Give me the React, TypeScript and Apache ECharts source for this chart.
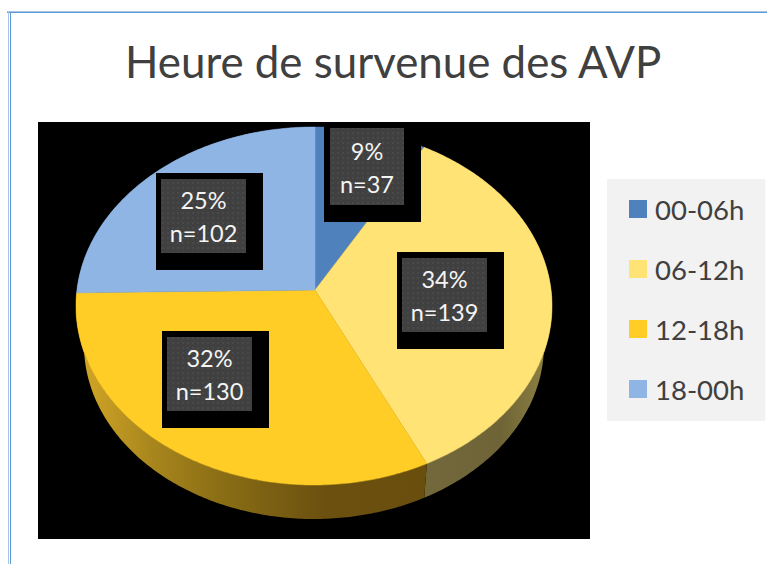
import React, { useEffect, useRef } from "react";
import * as echarts from "echarts";

const titleText = "Heure de survenue des AVP";
const categories = ["00-06h", "06-12h", "12-18h", "18-00h"];
const counts = [37, 139, 130, 102];

const FONT = "Lato";
const faceColors = ["#4F81BD", "#FFE375", "#FFCD26", "#8FB5E5"];
const top = { ax: 315, ay: 290, cx: 314, cy: 306, rx: 238, ry: 179 };
const bottom = { ax: 315, ay: 328, cx: 314, cy: 345, rx: 230, ry: 174 };
const boxes = [
  { b: [324, 122, 97, 100], g: [330, 128, 74, 77] },
  { b: [397, 252, 107, 97], g: [402, 258, 85, 74] },
  { b: [162, 331, 107, 97], g: [167, 337, 85, 74] },
  { b: [156, 173, 107, 97], g: [161, 179, 85, 74] },
];

const total = counts.reduce((a, b) => a + b, 0);

function rimPoint(e: typeof top, theta: number): number[] {
  const c = Math.cos(theta);
  const dx = Math.sin(theta);
  const dy = -c * (c > 0 ? 0.83 : 0.72) - 0.012 * dx;
  const ox = e.ax - e.cx;
  const oy = e.ay - e.cy;
  const A = (dx * dx) / (e.rx * e.rx) + (dy * dy) / (e.ry * e.ry);
  const B = (2 * ox * dx) / (e.rx * e.rx) + (2 * oy * dy) / (e.ry * e.ry);
  const C = (ox * ox) / (e.rx * e.rx) + (oy * oy) / (e.ry * e.ry) - 1;
  const s = (-B + Math.sqrt(B * B - 4 * A * C)) / (2 * A);
  return [e.ax + dx * s, e.ay + dy * s];
}

function sliceAngles(i: number): number[] {
  const before = counts.slice(0, i).reduce((a, b) => a + b, 0);
  return [(before / total) * 2 * Math.PI, ((before + counts[i]) / total) * 2 * Math.PI];
}

function arc(e: typeof top, a0: number, a1: number): number[][] {
  const n = Math.max(2, Math.ceil((a1 - a0) / 0.012));
  const out: number[][] = [];
  for (let k = 0; k <= n; k++) out.push(rimPoint(e, a0 + ((a1 - a0) * k) / n));
  return out;
}

const wallFills = [
  "#3a5f8c",
  new echarts.graphic.LinearGradient(427, 0, 550, 0, [
    { offset: 0, color: "#72683c" },
    { offset: 0.6, color: "#6e6436" },
    { offset: 1, color: "#8f8244" },
  ], true),
  new echarts.graphic.LinearGradient(84, 0, 427, 0, [
    { offset: 0, color: "#d0a426" },
    { offset: 0.2, color: "#a8861d" },
    { offset: 0.4, color: "#8a6e15" },
    { offset: 0.7, color: "#6b5010" },
    { offset: 1, color: "#6a4e0e" },
  ], true),
  "#6a87ac",
];

function dotPattern() {
  const c = document.createElement("canvas");
  c.width = 5;
  c.height = 5;
  const g = c.getContext("2d")!;
  g.fillStyle = "#404040";
  g.fillRect(0, 0, 5, 5);
  g.fillStyle = "#494949";
  g.fillRect(2, 2, 2, 2);
  return c;
}

export default function App() {
  const ref = useRef<HTMLDivElement>(null);
  useEffect(() => {
    document.body.style.margin = "0";
    const chart = echarts.init(ref.current!, undefined, { renderer: "svg" });
    const pattern = { image: dotPattern(), repeat: "repeat" };

    const wallSeries = {
      type: "custom",
      name: "wall",
      coordinateSystem: "none",
      silent: true,
      data: counts,
      renderItem: (p: any) => {
        const [a0, a1] = sliceAngles(p.dataIndex);
        const points = [...arc(top, a0, a1), ...arc(bottom, a0, a1).reverse()];
        return { type: "polygon", shape: { points }, style: { fill: wallFills[p.dataIndex] } };
      },
    };

    const faceSeries = categories.map((name, i) => ({
      type: "custom",
      name,
      coordinateSystem: "none",
      silent: true,
      itemStyle: { color: faceColors[i] },
      data: [counts[i]],
      renderItem: () => {
        const [a0, a1] = sliceAngles(i);
        const points = [[top.ax, top.ay], ...arc(top, a0, a1)];
        return {
          type: "polygon",
          shape: { points },
          style: { fill: faceColors[i], stroke: faceColors[i], lineWidth: 0.5 },
        };
      },
    }));

    const labelSeries = {
      type: "custom",
      name: "labels",
      coordinateSystem: "none",
      silent: true,
      data: counts,
      renderItem: (p: any, api: any) => {
        const i = p.dataIndex;
        const v = api.value(0);
        const { b, g } = boxes[i];
        const cx = g[0] + g[2] / 2;
        const cy = g[1] + g[3] / 2;
        const text = (t: string, y: number) => ({
          type: "text",
          style: {
            text: t,
            x: cx,
            y,
            fill: "#f4f4f4",
            font: `23.5px ${FONT}`,
            textAlign: "center",
            textVerticalAlign: "middle",
          },
        });
        return {
          type: "group",
          children: [
            { type: "rect", shape: { x: b[0], y: b[1], width: b[2], height: b[3] }, style: { fill: "#000" } },
            { type: "rect", shape: { x: g[0], y: g[1], width: g[2], height: g[3] }, style: { fill: pattern } },
            text(`${Math.round((v / total) * 100)}%`, cy - 16),
            text(`n=${v}`, cy + 17),
          ],
        };
      },
    };

    chart.setOption({
      animation: false,
      title: {
        text: titleText,
        left: 125,
        top: 39,
        padding: 0,
        textStyle: { fontFamily: FONT, fontSize: 43.85, fontWeight: "normal", color: "#404040" },
      },
      legend: {
        data: categories,
        orient: "vertical",
        left: 607,
        top: 179,
        padding: [16, 21, 18, 22],
        itemGap: 32,
        itemWidth: 18,
        itemHeight: 18,
        icon: "rect",
        backgroundColor: "#f2f2f2",
        selectedMode: false,
        textStyle: { fontFamily: FONT, fontSize: 27.5, color: "#404040", padding: [0, 0, 0, 3] },
      },
      graphic: [
        { type: "rect", shape: { x: 38, y: 122, width: 552, height: 417 }, style: { fill: "#000" }, silent: true },
        { type: "rect", shape: { x: 7, y: 11, width: 760, height: 1 }, style: { fill: "#a9c4e4" }, silent: true },
        { type: "rect", shape: { x: 7, y: 12, width: 760, height: 1 }, style: { fill: "#5b9bd5" }, silent: true },
        { type: "rect", shape: { x: 8, y: 11, width: 1, height: 553 }, style: { fill: "#a9c4e4" }, silent: true },
        { type: "rect", shape: { x: 10, y: 12, width: 1, height: 552 }, style: { fill: "#5b9bd5" }, silent: true },
      ],
      series: [wallSeries, ...faceSeries, labelSeries],
    });
    return () => chart.dispose();
  }, []);
  return <div ref={ref} style={{ position: "absolute", left: 0, top: 0, width: 767, height: 564 }} />;
}
